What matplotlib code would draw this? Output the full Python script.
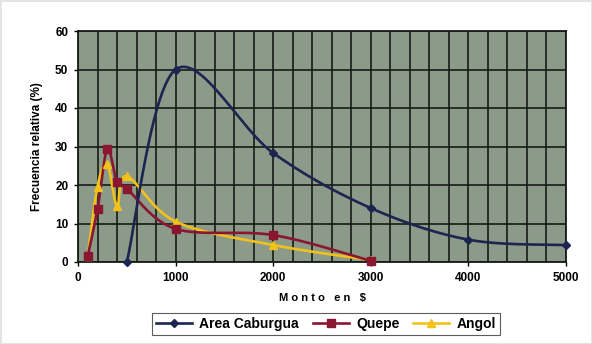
import numpy as np
import matplotlib
matplotlib.use("Agg")
import matplotlib.pyplot as plt
from matplotlib.ticker import MultipleLocator

plt.rcParams["font.family"] = ["Liberation Sans", "DejaVu Sans"]

# datos
caburgua_x = [500, 1000, 2000, 3000, 4000, 5000]
caburgua_y = [0, 50, 28.3, 14, 5.8, 4.4]

quepe_x = [100, 200, 300, 400, 500, 1000, 2000, 3000]
quepe_y = [1.6, 13.7, 29.3, 20.7, 19, 8.6, 7, 0.3]

angol_x = [100, 200, 300, 400, 500, 1000, 2000, 3000]
angol_y = [1.5, 19.6, 25.5, 14.5, 22.3, 10.5, 4.4, 0.5]

XMAX, YMAX = 5000, 60


def smooth(xs, ys, n=30):
    # curva suavizada tipo Excel (Bezier / Catmull-Rom), en coordenadas normalizadas
    px = np.asarray(xs, float) / XMAX * 1.9
    py = np.asarray(ys, float) / YMAX
    pts = np.column_stack([px, py])
    out = []
    for i in range(len(pts) - 1):
        p0 = pts[i - 1] if i > 0 else pts[i]
        p1, p2 = pts[i], pts[i + 1]
        p3 = pts[i + 2] if i + 2 < len(pts) else pts[i + 1]
        c1 = p1 + (p2 - p0) / 6
        c2 = p2 - (p3 - p1) / 6
        t = np.linspace(0, 1, n)[:, None]
        seg = (1 - t) ** 3 * p1 + 3 * (1 - t) ** 2 * t * c1 + 3 * (1 - t) * t ** 2 * c2 + t ** 3 * p2
        out.append(seg if i == 0 else seg[1:])
    c = np.vstack(out)
    return c[:, 0] / 1.9 * XMAX, c[:, 1] * YMAX


fig = plt.figure(figsize=(5.92, 3.44), dpi=100)
fig.patch.set_edgecolor("#e2e5e2")
fig.patch.set_linewidth(2)
ax = fig.add_axes([78 / 592, 1 - 262 / 344, (566 - 78) / 592, (262 - 31) / 344])
ax.set_facecolor("#8c9a89")

series = [
    ("Area Caburgua", caburgua_x, caburgua_y, "#1c2550", "D", 4),
    ("Quepe", quepe_x, quepe_y, "#8a1630", "s", 6),
    ("Angol", angol_x, angol_y, "#f2c21a", "^", 6),
]
handles = []
for name, xs, ys, col, mk, ms in reversed(series):
    sx, sy = smooth(xs, ys)
    ax.plot(sx, sy, color=col, lw=1.9, zorder=3, clip_on=False)
    ax.plot(xs, ys, ls="none", marker=mk, ms=ms, color=col, zorder=4, clip_on=False)
for name, xs, ys, col, mk, ms in series:
    h, = ax.plot([], [], color=col, lw=1.9, marker=mk, ms=ms, label=name)
    handles.append(h)

ax.set_xlim(0, XMAX)
ax.set_ylim(0, YMAX)
ax.xaxis.set_major_locator(MultipleLocator(1000))
ax.xaxis.set_minor_locator(MultipleLocator(200))
ax.yaxis.set_major_locator(MultipleLocator(10))
ax.grid(True, which="both", axis="x", color="#161b16", lw=1.2)
ax.grid(True, which="major", axis="y", color="#161b16", lw=1.2)
ax.set_axisbelow(True)
ax.tick_params(which="minor", length=0)
ax.tick_params(which="major", length=3, width=1, labelsize=8.5, pad=4)
for lab in ax.get_xticklabels() + ax.get_yticklabels():
    lab.set_fontweight("bold")
for sp in ax.spines.values():
    sp.set_color("#161b16")
    sp.set_linewidth(1.3)

ax.set_xlabel("M o n t o   e n   $", fontsize=8, fontweight="bold", labelpad=7)
ax.set_ylabel("Frecuencia relativa (%)", fontsize=8.5, fontweight="bold", labelpad=9)

leg = fig.legend(handles=handles, loc="center", bbox_to_anchor=(326 / 592, 1 - 324 / 344),
                 ncol=3, frameon=True, fancybox=False, edgecolor="#333333",
                 prop={"size": 10, "weight": "bold"}, handlelength=2.6, columnspacing=1.0,
                 handletextpad=0.5, borderpad=0.3)
leg.get_frame().set_linewidth(0.8)

fig.savefig("out.png", dpi=100)
